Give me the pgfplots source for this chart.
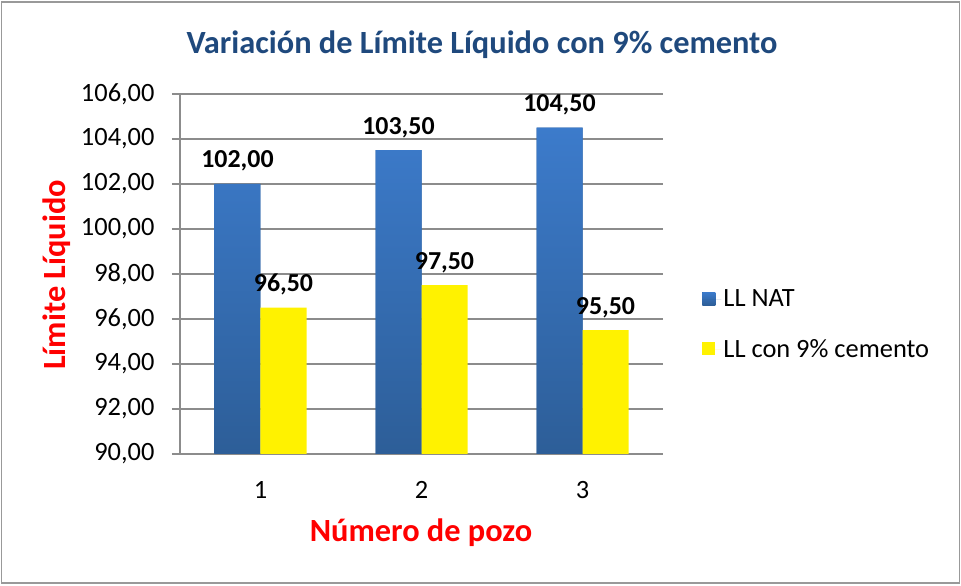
\documentclass[border=0pt]{standalone}
\usepackage{fontspec}
\setmainfont{Carlito}
\usepackage{pgfplots}
\pgfplotsset{compat=1.18}
\definecolor{cTitle}{HTML}{1F497D}
\definecolor{cBlueTop}{HTML}{3C7BCB}
\definecolor{cBlueBot}{HTML}{2D5E98}
\definecolor{cGrid}{HTML}{8C8C8C}
\begin{document}
\begin{tikzpicture}[x=1bp,y=1bp]
% page = 961 x 586 px, origin at lower-left of plot area (px 180,454)
\path[use as bounding box] (-180,-132) rectangle (781,454);
\draw[line width=1.5bp, color=gray!80] (-178.5,-129) rectangle (779.5,452);
\begin{axis}[
  at={(0,0)}, anchor=origin,
  scale only axis, width=483bp, height=360bp,
  ybar, bar width=46bp,
  xmin=0.5, xmax=3.5, ymin=90, ymax=106,
  xtick={1,2,3}, xticklabels={1,2,3},
  extra x ticks={0.5,1.5,2.5,3.5}, extra x tick labels={},
  extra x tick style={major tick length=9bp, tick style={draw=cGrid, line width=1.2bp}, grid=none},
  major x tick style={draw=none},
  ytick={90,92,...,106},
  yticklabel={\pgfmathprintnumber[fixed,fixed zerofill,precision=2,use comma]{\tick}},
  /pgf/number format/assume math mode=true,
  ymajorgrids, grid style={draw=cGrid, line width=1.2bp},
  axis x line*=bottom, axis y line*=left,
  axis line style={draw=cGrid, line width=1.2bp},
  y axis line style={-}, x axis line style={-},
  tick align=outside, major tick length=8bp,
  ytick style={draw=cGrid, line width=1.2bp},
  ticklabel style={font=\fontsize{26.5}{28}\selectfont, text=black},
  xticklabel style={yshift=-16bp},
  yticklabel style={xshift=-14bp},
  nodes near coords={\pgfmathprintnumber[fixed,fixed zerofill,precision=2,use comma]{\pgfplotspointmeta}},
  nodes near coords style={font=\bfseries\fontsize{26}{28}\selectfont, text=black, yshift=9bp},
  legend style={draw=none, fill=none, at={(1.075,0.36)}, anchor=west,
    font=\fontsize{26.5}{28}\selectfont, row sep=27bp},
  legend cell align=left,
  legend image code/.code={\fill[#1] (0bp,-6bp) rectangle (13bp,7bp); \path (0bp,0bp) -- (19bp,0bp);},
]
\addplot[draw=none, fill=cBlueBot, top color=cBlueTop, bottom color=cBlueBot, bar shift=-23bp]
  coordinates {(1,102.0) (2,103.5) (3,104.5)};
\addplot[draw=none, fill=yellow, bar shift=23bp]
  coordinates {(1,96.5) (2,97.5) (3,95.5)};
\legend{LL NAT, LL con 9\% cemento}
\end{axis}
\node[font=\bfseries\fontsize{32.5}{34}\selectfont, text=cTitle] at (302,409) {Variación de Límite Líquido con 9\% cemento};
\node[font=\bfseries\fontsize{32.5}{34}\selectfont, text=red, rotate=90] at (-123,179) {Límite Líquido};
\node[font=\bfseries\fontsize{32.5}{34}\selectfont, text=red] at (241,-79) {Número de pozo};
\end{tikzpicture}
\end{document}
